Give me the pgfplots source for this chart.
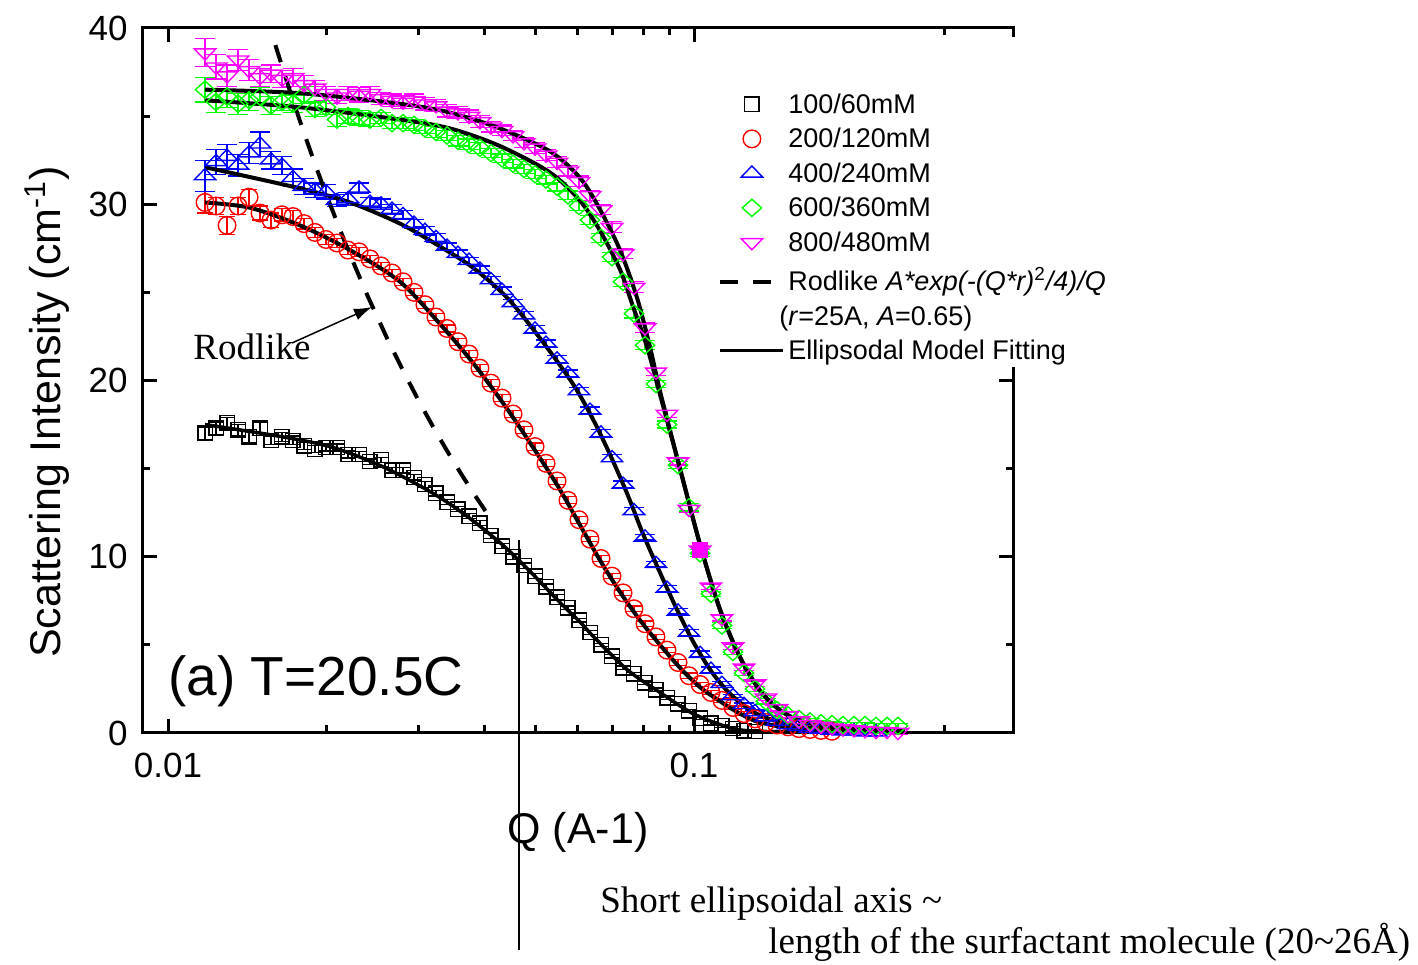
\documentclass[border=0pt]{standalone}
\usepackage{fontspec}
\setmainfont{Liberation Sans}
\newfontfamily\seriffont{Liberation Serif}
\usepackage{pgfplots}
\pgfplotsset{compat=1.18}
\usetikzlibrary{arrows.meta}
\definecolor{mymag}{RGB}{255,0,255}
\definecolor{mygreen}{RGB}{0,255,0}
\definecolor{myblue}{RGB}{0,0,255}
\definecolor{myred}{RGB}{255,0,0}
\pgfplotsset{
  markleg/.style={legend image code/.code={\draw[##1] plot coordinates {(15.75bp,0bp)};}},
  lineleg/.style={legend image code/.code={\draw[##1] (0bp,0bp) -- (31.5bp,0bp);}},
}
\begin{document}
\begin{tikzpicture}[x=0.5bp,y=0.5bp]
\path[use as bounding box] (0,0) rectangle (1418,964);
\begin{axis}[
  at={(71.5bp,115.5bp)}, anchor=south west,
  scale only axis, width=435bp, height=352.5bp,
  clip=false,
  xmode=log, xmin=0.008963, xmax=0.4041, ymin=0, ymax=40,
  xtick={0.01,0.1}, xticklabels={0.01,0.1},
  minor xtick={0.02,0.03,0.04,0.05,0.06,0.07,0.08,0.09,0.3},
  ytick={0,10,20,30,40}, yticklabels={0,10,20,30,40},
  minor ytick={5,15,25,35},
  tick align=inside,
  major tick length=7bp, minor tick length=3.75bp,
  axis line style={line width=1.5bp},
  tick style={black, line width=1.5bp},
  tick label style={font=\fontsize{17.5bp}{20bp}\selectfont, inner sep=0pt},
  xticklabel style={yshift=-10bp},
  yticklabel style={xshift=-7.5bp},
  xlabel={Q (A-1)},
  xlabel style={at={(axis description cs:0.5,-0.1574)}, anchor=base, font=\fontsize{21.5bp}{25bp}\selectfont},
  ylabel={Scattering Intensity (cm\textsuperscript{-1})},
  ylabel style={at={(axis description cs:-0.0943,0.4553)}, anchor=base, font=\fontsize{21.5bp}{25bp}\selectfont},
  legend cell align=left,
  legend style={at={(axis description cs:0.6609,0.9078)}, anchor=north west, draw=none, fill=none, inner sep=0pt,
    font=\fontsize{13.5bp}{16bp}\selectfont, row sep=6.25bp, column sep=-3bp,
    nodes={inner sep=0pt, text height=10bp, text depth=1bp}},
]
% 100/60mM
\addplot[only marks, black, mark=square, mark size=3.6bp, mark options={line width=0.7bp}, markleg,
  error bars/.cd, y dir=both, y explicit, error bar style={line width=0.6bp},
  error mark options={rotate=90, mark size=3.6bp, line width=0.6bp}]
  table[x=q, y=i, y error=e] {
q i e
0.01176 17.0 0.35
0.01234 17.3 0.35
0.01295 17.6 0.3
0.01359 17.2 0.3
0.01426 16.8 0.3
0.01496 17.3 0.3
0.01570 16.6 0.25
0.01647 16.8 0.25
0.01728 16.6 0.25
0.01814 16.3 0.2
0.01903 16.1 0.2
0.01997 16.2 0.2
0.02096 16.2 0.2
0.02199 15.8 0.2
0.02308 15.8 0.15
0.02421 15.4 0.15
0.02541 15.5 0.15
0.02666 14.9 0.15
0.02798 14.9 0.15
0.02936 14.5 0.15
0.03080 14.1 0.15
0.03232 13.6 0.15
0.03392 13.1 0.15
0.03559 12.7 0.15
0.03735 12.3 0.15
0.03919 11.9 0.15
0.04112 11.2 0.15
0.04315 10.6 0.15
0.04528 10.0 0.15
0.04751 9.5 0.15
0.04986 8.9 0.15
0.05232 8.3 0.15
0.05490 7.7 0.15
0.05760 7.1 0.1
0.06045 6.4 0.1
0.06343 5.7 0.1
0.06656 5.0 0.1
0.06984 4.35 0.1
0.07329 3.7 0.1
0.07690 3.35 0.1
0.08069 2.85 0.1
0.08467 2.45 0.1
0.08885 2.0 0.1
0.09323 1.65 0.1
0.09783 1.25 0.1
0.1027 0.85 0.1
0.1077 0.55 0.1
0.1130 0.4 0.1
0.1186 0.25 0.1
0.1245 0.12 0.1
0.1306 0.08 0.1
};
\addlegendentry{100/60mM}
% 200/120mM
\addplot[only marks, myred, mark=o, mark size=4.4bp, mark options={line width=0.7bp}, markleg,
  error bars/.cd, y dir=both, y explicit, error bar style={line width=0.6bp},
  error mark options={rotate=90, mark size=4.2bp, line width=0.6bp}]
  table[x=q, y=i, y error=e] {
q i e
0.01176 30.1 0.6
0.01234 29.9 0.5
0.01295 28.8 0.5
0.01359 29.9 0.5
0.01426 30.4 0.45
0.01496 29.5 0.4
0.01570 29.1 0.4
0.01647 29.4 0.35
0.01728 29.3 0.35
0.01814 28.9 0.3
0.01903 28.4 0.3
0.01997 28.0 0.3
0.02096 27.8 0.25
0.02199 27.4 0.25
0.02308 27.3 0.25
0.02421 26.9 0.2
0.02541 26.5 0.2
0.02666 26.1 0.2
0.02798 25.6 0.2
0.02936 25.0 0.2
0.03080 24.3 0.2
0.03232 23.6 0.2
0.03392 22.95 0.2
0.03559 22.2 0.2
0.03735 21.5 0.2
0.03919 20.7 0.2
0.04112 19.85 0.2
0.04315 19.0 0.2
0.04528 18.1 0.2
0.04751 17.2 0.2
0.04986 16.25 0.2
0.05232 15.3 0.2
0.05490 14.3 0.2
0.05760 13.2 0.2
0.06045 12.1 0.2
0.06343 11.0 0.15
0.06656 9.9 0.15
0.06984 8.9 0.15
0.07329 7.95 0.15
0.07690 7.05 0.15
0.08069 6.2 0.15
0.08467 5.45 0.15
0.08885 4.7 0.15
0.09323 4.0 0.15
0.09783 3.25 0.15
0.1027 2.75 0.1
0.1077 2.3 0.1
0.1130 1.85 0.1
0.1186 1.45 0.1
0.1245 1.1 0.1
0.1306 0.8 0.1
0.1370 0.6 0.1
0.1438 0.45 0.1
0.1509 0.35 0.1
0.1583 0.25 0.1
0.1662 0.2 0.1
0.1744 0.15 0.1
0.1830 0.1 0.1
};
\addlegendentry{200/120mM}
% 400/240mM
\addplot[only marks, myblue, mark=triangle, mark size=6.2bp, mark options={line width=0.7bp, yscale=0.6}, markleg,
  error bars/.cd, y dir=both, y explicit, error bar style={line width=0.6bp},
  error mark options={rotate=90, mark size=5bp, line width=0.6bp}]
  table[x=q, y=i, y error=e] {
q i e
0.01176 31.6 0.9
0.01234 32.4 0.7
0.01295 32.7 0.7
0.01359 32.2 0.6
0.01426 32.9 0.6
0.01496 33.4 0.7
0.01570 32.5 0.5
0.01647 32.2 0.5
0.01728 31.5 0.5
0.01814 31.0 0.45
0.01903 30.8 0.4
0.01997 30.7 0.4
0.02096 30.2 0.35
0.02199 30.3 0.35
0.02308 30.9 0.3
0.02421 30.1 0.3
0.02541 30.0 0.3
0.02666 29.7 0.3
0.02798 29.4 0.25
0.02936 28.9 0.25
0.03080 28.5 0.25
0.03232 28.1 0.25
0.03392 27.6 0.2
0.03559 27.2 0.2
0.03735 26.8 0.2
0.03919 26.3 0.2
0.04112 25.7 0.2
0.04315 25.1 0.2
0.04528 24.4 0.2
0.04751 23.7 0.2
0.04986 22.9 0.2
0.05232 22.1 0.2
0.05490 21.2 0.2
0.05760 20.4 0.2
0.06045 19.4 0.2
0.06343 18.3 0.2
0.06656 17.0 0.2
0.06984 15.6 0.2
0.07329 14.1 0.2
0.07690 12.6 0.2
0.08069 11.1 0.15
0.08467 9.6 0.15
0.08885 8.2 0.15
0.09323 6.9 0.15
0.09783 5.7 0.15
0.1027 4.5 0.15
0.1077 3.6 0.15
0.1130 2.8 0.1
0.1186 2.1 0.1
0.1245 1.6 0.1
0.1306 1.2 0.1
0.1370 0.9 0.1
0.1438 0.65 0.1
0.1509 0.45 0.1
0.1583 0.35 0.1
0.1662 0.25 0.1
0.1744 0.2 0.1
0.1830 0.15 0.1
0.1920 0.1 0.1
0.2014 0.1 0.1
0.2114 0.05 0.1
0.2218 0.05 0.1
};
\addlegendentry{400/240mM}
% 600/360mM
\addplot[only marks, mygreen, mark=diamond, mark size=4.3bp, mark options={line width=0.7bp, xscale=1.5}, markleg,
  error bars/.cd, y dir=both, y explicit, error bar style={line width=0.6bp},
  error mark options={rotate=90, mark size=5bp, line width=0.6bp}]
  table[x=q, y=i, y error=e] {
q i e
0.01176 36.5 0.7
0.01234 35.8 0.6
0.01295 36.1 0.6
0.01359 35.7 0.6
0.01426 35.9 0.6
0.01496 36.1 0.5
0.01570 35.6 0.5
0.01647 35.8 0.5
0.01728 35.7 0.5
0.01814 36.2 0.5
0.01903 35.4 0.4
0.01997 35.5 0.4
0.02096 34.8 0.4
0.02199 35.0 0.4
0.02308 34.9 0.4
0.02421 34.8 0.4
0.02541 34.9 0.3
0.02666 34.6 0.3
0.02798 34.6 0.3
0.02936 34.5 0.3
0.03080 34.3 0.3
0.03232 34.1 0.3
0.03392 33.9 0.3
0.03559 33.6 0.3
0.03735 33.4 0.3
0.03919 33.2 0.3
0.04112 32.9 0.25
0.04315 32.6 0.25
0.04528 32.3 0.25
0.04751 32.0 0.25
0.04986 31.7 0.25
0.05232 31.4 0.25
0.05490 31.0 0.25
0.05760 30.5 0.25
0.06045 29.9 0.25
0.06343 29.1 0.25
0.06656 28.1 0.25
0.06984 27.0 0.25
0.07329 25.6 0.25
0.07690 23.8 0.25
0.08069 22.0 0.25
0.08467 19.8 0.2
0.08885 17.5 0.2
0.09323 15.2 0.2
0.09783 12.8 0.2
0.1027 10.2 0.2
0.1077 7.9 0.15
0.1130 6.1 0.15
0.1186 4.6 0.15
0.1245 3.4 0.15
0.1306 2.5 0.15
0.1370 1.8 0.15
0.1438 1.3 0.15
0.1509 1.0 0.15
0.1583 0.8 0.15
0.1662 0.65 0.15
0.1744 0.55 0.15
0.1830 0.5 0.15
0.1920 0.45 0.15
0.2014 0.45 0.15
0.2114 0.45 0.15
0.2218 0.4 0.15
0.2328 0.4 0.15
0.2442 0.4 0.15
};
\addlegendentry{600/360mM}
% 800/480mM
\addplot[only marks, mymag, mark=triangle, mark size=6.2bp, mark options={line width=0.7bp, rotate=180, yscale=0.6}, markleg,
  error bars/.cd, y dir=both, y explicit, error bar style={line width=0.6bp},
  error mark options={rotate=90, mark size=5bp, line width=0.6bp}]
  table[x=q, y=i, y error=e] {
q i e
0.01176 38.6 0.8
0.01234 37.8 0.7
0.01295 37.3 0.6
0.01359 38.2 0.6
0.01426 37.6 0.6
0.01496 37.2 0.5
0.01570 37.4 0.5
0.01647 37.1 0.5
0.01728 37.2 0.5
0.01814 36.8 0.5
0.01903 36.6 0.4
0.01997 36.3 0.4
0.02096 36.1 0.4
0.02199 36.3 0.4
0.02308 36.2 0.4
0.02421 36.3 0.4
0.02541 36.0 0.35
0.02666 35.9 0.35
0.02798 35.8 0.35
0.02936 35.9 0.35
0.03080 35.7 0.35
0.03232 35.6 0.35
0.03392 35.3 0.35
0.03559 35.2 0.35
0.03735 35.0 0.35
0.03919 34.7 0.35
0.04112 34.4 0.3
0.04315 34.2 0.3
0.04528 33.9 0.3
0.04751 33.5 0.3
0.04986 33.2 0.3
0.05232 32.8 0.3
0.05490 32.4 0.3
0.05760 31.9 0.3
0.06045 31.3 0.3
0.06343 30.5 0.3
0.06656 29.7 0.3
0.06984 28.7 0.3
0.07329 27.2 0.3
0.07690 25.3 0.3
0.08069 23.0 0.3
0.08467 20.5 0.2
0.08885 18.1 0.2
0.09323 15.4 0.2
0.09783 12.7 0.2
0.1027 10.4 0.2
0.1077 8.3 0.15
0.1130 6.5 0.15
0.1186 4.9 0.15
0.1245 3.7 0.15
0.1306 2.8 0.15
0.1370 2.0 0.15
0.1438 1.4 0.15
0.1509 1.0 0.15
0.1583 0.7 0.15
0.1662 0.5 0.15
0.1744 0.4 0.15
0.1830 0.3 0.15
0.1920 0.25 0.15
0.2014 0.2 0.15
0.2114 0.15 0.15
0.2218 0.1 0.15
0.2328 0.1 0.15
0.2442 0.05 0.15
};
\addlegendentry{800/480mM}
% highlighted point
\addplot[forget plot, only marks, mymag, mark=square*, mark size=3.75bp] coordinates {(0.1027,10.4)};
% Rodlike
\addplot[black, line width=2bp, dash pattern=on 9bp off 7.5bp, lineleg] table[x=q, y=i] {
q i
0.0160 39.03
0.0170 36.55
0.0180 34.33
0.0190 32.34
0.0200 30.53
0.0220 27.39
0.0240 24.75
0.0260 22.49
0.0280 20.54
0.0300 18.82
0.0320 17.31
0.0340 15.96
0.0360 14.75
0.0380 13.65
0.0400 12.66
0.0415 11.97
};
\addlegendentry[text height=12.5bp, yshift=1.25bp]{Rodlike \textit{A*exp(-(Q*r)}\textsuperscript{2}\textit{/4)/Q}}
\addlegendimage{empty legend}
\addlegendentry[xshift=-4.5bp]{(\textit{r}=25A, \textit{A}=0.65)}
% fits
\addplot[forget plot, black, line width=1.75bp, smooth] table[x=q, y=i] {
q i
0.01176 17.5
0.01654 16.8
0.02059 16.2
0.02563 15.1
0.03190 13.6
0.03702 12.3
0.04277 10.8
0.04608 9.9
0.04942 9.0
0.05563 7.4
0.06071 6.3
0.06426 5.5
0.07459 3.6
0.08617 2.3
0.09956 1.1
0.11554 0.35
0.12778 0.12
0.15905 0.05
};
\addplot[forget plot, black, line width=2bp, smooth] table[x=q, y=i] {
q i
0.01176 30.1
0.01432 29.8
0.01782 28.8
0.02218 27.4
0.02761 25.6
0.03290 23.2
0.03801 21.0
0.04411 18.4
0.05096 15.6
0.05563 13.8
0.06071 11.8
0.06627 9.8
0.07233 8.0
0.07895 6.4
0.08617 5.0
0.09405 3.7
0.10266 2.6
0.11206 1.8
0.12231 1.1
0.13350 0.6
0.15905 0.2
0.19797 0.1
};
\addplot[forget plot, black, line width=2bp, smooth] table[x=q, y=i] {
q i
0.01176 32.1
0.01782 30.9
0.02218 30.1
0.02761 28.9
0.03290 27.6
0.03801 26.4
0.04411 24.7
0.05096 22.4
0.05888 19.8
0.06426 17.8
0.06923 15.8
0.07459 13.6
0.07999 11.3
0.08617 9.1
0.09283 7.0
0.09956 5.2
0.10726 3.6
0.11554 2.4
0.12393 1.6
0.13350 1.0
0.15424 0.4
0.18137 0.2
0.22574 0.1
};
\addplot[forget plot, black, line width=2bp, smooth] table[x=q, y=i] {
q i
0.01176 35.9
0.01782 35.5
0.02761 34.8
0.03437 34.3
0.04277 33.3
0.05324 31.8
0.06071 30.2
0.06627 28.5
0.07233 26.3
0.07657 24.2
0.08141 21.9
0.08617 19.2
0.09405 15.0
0.10266 10.7
0.11206 7.0
0.12231 4.3
0.13350 2.4
0.14572 1.3
0.15905 0.7
0.18137 0.35
0.20683 0.2
0.24640 0.1
0.25180 0.1
};
\addplot[forget plot, black, line width=2bp, smooth] table[x=q, y=i] {
q i
0.01176 36.5
0.01782 36.3
0.02761 35.7
0.03437 35.2
0.04277 34.3
0.05324 33.0
0.06071 31.5
0.06627 29.7
0.07233 27.4
0.07792 24.7
0.08248 21.9
0.08617 19.4
0.09405 15.0
0.10266 10.7
0.11206 7.0
0.12231 4.3
0.13350 2.4
0.14572 1.3
0.15905 0.7
0.18137 0.35
0.20683 0.2
0.24640 0.1
0.25180 0.1
};
\addlegendimage{black, line width=1.5bp, lineleg}
\addlegendentry{Ellipsodal Model Fitting}
% hide the right axis line behind the legend
\fill[white] (axis description cs:0.9793,0.9872) rectangle (axis description cs:1.008,0.5191);
\end{axis}
\node[anchor=base west, inner sep=0pt, font={\seriffont\fontsize{18.5bp}{22bp}\selectfont}] at (193,604) {Rodlike};
\draw[line width=0.75bp, -{Latex[length=9bp,width=6bp]}] (292,621) -- (372,657);
\node[anchor=base west, inner sep=0pt, font={\fontsize{27.5bp}{32bp}\selectfont}] at (168,269) {(a) T=20.5C};
\draw[line width=1bp] (519,424) -- (519,14);
\node[anchor=base west, inner sep=0pt, font={\seriffont\fontsize{18.5bp}{22bp}\selectfont}] at (600,52) {Short ellipsoidal axis \textasciitilde};
\node[anchor=base west, inner sep=0pt, font={\seriffont\fontsize{18.5bp}{22bp}\selectfont}] at (768,11) {length of the surfactant molecule (20\textasciitilde 26Å)};
\end{tikzpicture}
\end{document}
